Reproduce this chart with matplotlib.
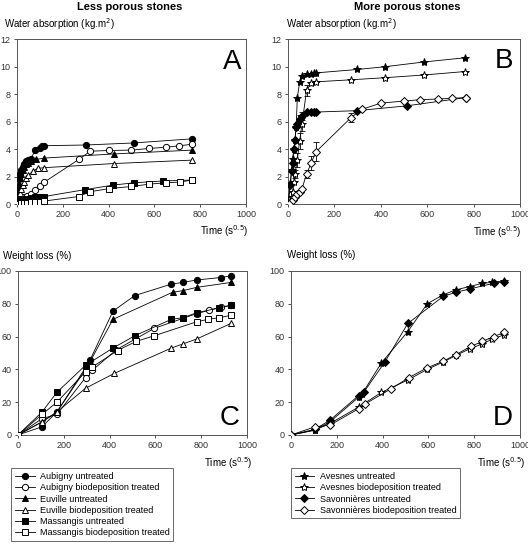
import matplotlib
matplotlib.use("Agg")
import matplotlib.pyplot as plt
from matplotlib.lines import Line2D

plt.rcParams['font.family'] = ['Liberation Sans', 'DejaVu Sans']

# ---- Panel A: less porous stones, water absorption ----
a_aub_u_x = [0, 5, 10, 15, 20, 25, 30, 40, 50, 60, 80, 100, 110, 120, 300, 510, 765]
a_aub_u_y = [0.5, 1.2, 1.8, 2.2, 2.5, 2.7, 2.9, 3.1, 3.2, 3.3, 3.9, 4.1, 4.2, 4.25, 4.3, 4.45, 4.75]
a_aub_t_x = [0, 10, 20, 30, 45, 60, 80, 100, 120, 272, 320, 402, 500, 578, 651, 709, 766]
a_aub_t_y = [0, 0.2, 0.35, 0.5, 0.6, 0.7, 1.0, 1.3, 1.6, 3.27, 3.85, 3.9, 3.93, 4.05, 4.14, 4.24, 4.36]
a_euv_u_x = [0, 5, 10, 15, 20, 25, 30, 40, 50, 60, 85, 120, 424, 765]
a_euv_u_y = [0.4, 1.0, 1.5, 1.9, 2.2, 2.5, 2.7, 2.9, 3.0, 3.1, 3.25, 3.35, 3.65, 3.93]
a_euv_t_x = [0, 5, 10, 15, 20, 25, 30, 40, 50, 70, 90, 120, 424, 765]
a_euv_t_y = [0.1, 0.3, 0.5, 0.8, 1.1, 1.4, 1.6, 1.9, 2.1, 2.4, 2.6, 2.65, 2.95, 3.2]
a_mas_u_x = [0, 10, 20, 30, 40, 60, 80, 100, 120, 297, 420, 511, 639, 765]
a_mas_u_y = [0.25, 0.3, 0.35, 0.35, 0.4, 0.45, 0.5, 0.5, 0.55, 1.05, 1.38, 1.55, 1.68, 1.75]
a_mas_t_x = [0, 10, 20, 30, 45, 60, 80, 100, 120, 270, 320, 400, 500, 578, 650, 710, 765]
a_mas_t_y = [0, 0.02, 0.05, 0.07, 0.1, 0.12, 0.15, 0.18, 0.22, 0.55, 0.9, 1.12, 1.28, 1.45, 1.55, 1.6, 1.75]

# ---- Panel B: more porous stones, water absorption ----
b_ave_u_x = [0, 10, 15, 20, 25, 30, 35, 40, 50, 60, 80, 100, 110, 120, 299, 417, 588, 762]
b_ave_u_y = [0, 1.5, 2.5, 3.3, 4.0, 4.7, 5.6, 7.7, 8.9, 9.3, 9.45, 9.5, 9.55, 9.55, 9.8, 10.0, 10.35, 10.65]
b_ave_t_x = [0, 10, 15, 20, 25, 30, 40, 50, 60, 80, 100, 120, 272, 417, 588, 762]
b_ave_t_y = [0, 0.2, 0.5, 0.9, 1.6, 2.2, 3.2, 4.6, 5.8, 8.3, 8.8, 8.9, 9.05, 9.2, 9.4, 9.65]
b_ave_t_err = [0, 0, 0, 0, 0, 0.3, 0.5, 0.6, 0.5, 0.4, 0, 0, 0, 0, 0, 0]
b_sav_u_x = [0, 10, 15, 20, 25, 30, 35, 40, 50, 60, 80, 100, 110, 120, 297, 511, 765]
b_sav_u_y = [0, 1.4, 2.4, 3.0, 4.0, 4.7, 5.6, 5.8, 6.2, 6.4, 6.7, 6.7, 6.7, 6.7, 6.8, 7.15, 7.75]
b_sav_u_err = [0, 0, 0, 0, 0, 0, 0, 0, 0.3, 0.3, 0, 0, 0, 0, 0, 0, 0]
b_sav_t_x = [0, 10, 20, 30, 40, 50, 60, 80, 100, 120, 272, 319, 400, 500, 570, 646, 707, 765]
b_sav_t_y = [0, 0.1, 0.3, 0.5, 0.7, 0.9, 1.1, 2.2, 3.0, 3.8, 6.3, 6.9, 7.35, 7.5, 7.6, 7.65, 7.7, 7.75]
b_sav_t_err = [0, 0, 0, 0, 0, 0, 0, 0.3, 0.5, 0.7, 0.35, 0, 0, 0, 0, 0, 0, 0]

# ---- Panel C: less porous stones, weight loss ----
c_aub_u_x = [0, 105, 170, 295, 316, 415, 510, 670, 720, 780, 885, 930]
c_aub_u_y = [0, 5, 14, 41, 46, 75.5, 85, 92, 93, 94.5, 96, 97]
c_aub_t_x = [0, 105, 170, 295, 325, 430, 595, 780, 835, 885, 930]
c_aub_t_y = [0, 10, 12.5, 35, 39.5, 52, 65, 74, 76, 78, 79]
c_euv_u_x = [0, 105, 170, 295, 316, 415, 675, 720, 780, 930]
c_euv_u_y = [0, 8, 14, 40, 45, 70.5, 87, 88, 90, 93]
c_euv_t_x = [0, 105, 170, 295, 420, 670, 720, 780, 930]
c_euv_t_y = [0, 8, 14, 28.5, 37.5, 53, 55.5, 58.5, 68]
c_mas_u_x = [0, 105, 170, 295, 415, 510, 670, 720, 780, 880, 930]
c_mas_u_y = [0, 14, 26, 42.5, 53, 60.5, 70.5, 71.5, 74.5, 77.5, 79]
c_mas_t_x = [0, 105, 170, 295, 325, 435, 515, 595, 780, 830, 880, 930]
c_mas_t_y = [0, 12.5, 20, 38.5, 41.5, 51.5, 57, 60.5, 69, 70.5, 71.5, 73]

# ---- Panel D: more porous stones, weight loss ----
d_ave_u_x = [0, 105, 170, 295, 310, 395, 510, 595, 665, 720, 780, 835, 880, 930]
d_ave_u_y = [0, 3, 8, 23, 25, 44, 63, 80, 85.5, 88.5, 90.5, 92.5, 93, 94]
d_ave_t_x = [0, 105, 170, 295, 395, 510, 595, 665, 720, 780, 835, 880, 930]
d_ave_t_y = [0, 3, 7, 17, 26, 33.5, 40, 44.5, 48.5, 52.5, 55.5, 58.5, 61]
d_sav_u_x = [0, 105, 170, 295, 320, 410, 510, 665, 720, 780, 885, 930]
d_sav_u_y = [0, 3.5, 9, 24, 26.5, 44.5, 68, 84.5, 87, 89, 92.5, 93.5]
d_sav_t_x = [0, 105, 170, 295, 325, 435, 515, 595, 665, 720, 785, 835, 885, 930]
d_sav_t_y = [0, 5, 6, 16, 19, 28, 35, 41, 45, 49, 54, 57, 60, 62.5]

left_labels = ["Aubigny untreated", "Aubigny biodeposition treated",
               "Euville untreated", "Euville biodeposition treated",
               "Massangis untreated", "Massangis biodeposition treated"]
right_labels = ["Avesnes untreated", "Avesnes biodeposition treated",
                "Savonnières untreated", "Savonnières biodeposition treated"]

# marker styles: (marker, facecolor, size)
left_styles = [("o", "black", 4.5), ("o", "white", 4.5), ("^", "black", 4.5),
               ("^", "white", 4.5), ("s", "black", 4.2), ("s", "white", 4.2)]
right_styles = [("*", "black", 6), ("*", "white", 6), ("D", "black", 4), ("D", "white", 4)]

fig = plt.figure(figsize=(5.28, 5.53), dpi=100)
axA = fig.add_axes([0.032, 0.631, 0.434, 0.298])
axB = fig.add_axes([0.5455, 0.631, 0.4394, 0.298])
axC = fig.add_axes([0.034, 0.2134, 0.4337, 0.2966])
axD = fig.add_axes([0.5511, 0.2134, 0.4337, 0.2966])


def draw(ax, x, y, style, err=None):
    m, fc, ms = style
    if err is not None:
        ax.errorbar(x, y, yerr=err, fmt="none", ecolor="black", elinewidth=0.6,
                    capsize=2.5, capthick=0.6, zorder=2)
    ax.plot(x, y, color="black", lw=0.6, marker=m, mfc=fc, mec="black",
            mew=0.7, ms=ms, zorder=3)


draw(axA, a_aub_u_x, a_aub_u_y, left_styles[0])
draw(axA, a_aub_t_x, a_aub_t_y, left_styles[1])
draw(axA, a_euv_u_x, a_euv_u_y, left_styles[2])
draw(axA, a_euv_t_x, a_euv_t_y, left_styles[3])
draw(axA, a_mas_u_x, a_mas_u_y, left_styles[4])
draw(axA, a_mas_t_x, a_mas_t_y, left_styles[5])

draw(axB, b_ave_u_x, b_ave_u_y, right_styles[0])
draw(axB, b_ave_t_x, b_ave_t_y, right_styles[1], b_ave_t_err)
draw(axB, b_sav_u_x, b_sav_u_y, right_styles[2], b_sav_u_err)
draw(axB, b_sav_t_x, b_sav_t_y, right_styles[3], b_sav_t_err)

draw(axC, c_aub_u_x, c_aub_u_y, left_styles[0])
draw(axC, c_aub_t_x, c_aub_t_y, left_styles[1])
draw(axC, c_euv_u_x, c_euv_u_y, left_styles[2])
draw(axC, c_euv_t_x, c_euv_t_y, left_styles[3])
draw(axC, c_mas_u_x, c_mas_u_y, left_styles[4])
draw(axC, c_mas_t_x, c_mas_t_y, left_styles[5])

draw(axD, d_ave_u_x, d_ave_u_y, right_styles[0])
draw(axD, d_ave_t_x, d_ave_t_y, right_styles[1])
draw(axD, d_sav_u_x, d_sav_u_y, right_styles[2])
draw(axD, d_sav_t_x, d_sav_t_y, right_styles[3])

for ax in (axA, axB):
    ax.set_ylim(0, 12)
    ax.set_yticks(range(0, 13, 2))
for ax in (axC, axD):
    ax.set_ylim(0, 100)
    ax.set_yticks(range(0, 101, 20))

for ax in (axA, axB, axC, axD):
    ax.set_xlim(0, 1000)
    ax.set_xticks(range(0, 1001, 200))
    ax.tick_params(labelsize=6.5, length=2.5, width=0.6, colors="#333333", pad=2)
    for sp in ax.spines.values():
        sp.set_linewidth(0.7)
        sp.set_color("#555555")
    ax.set_clip_on(False)

# panel letters
for ax, letter, pos in ((axA, "A", (0.94, 0.86)), (axB, "B", (0.93, 0.87)),
                        (axC, "C", (0.925, 0.105)), (axD, "D", (0.925, 0.105))):
    ax.text(pos[0], pos[1], letter, transform=ax.transAxes, fontsize=20,
            ha="center", va="center")

# titles and axis labels
fig.text(0.246, 0.988, "Less porous stones", ha="center", va="center",
         fontsize=8, fontweight="bold")
fig.text(0.771, 0.988, "More porous stones", ha="center", va="center",
         fontsize=8, fontweight="bold")
fig.text(0.007, 0.957, "Water absorption (kg.m$^{2}$)", ha="left", va="center", fontsize=7)
fig.text(0.542, 0.957, "Water absorption (kg.m$^{2}$)", ha="left", va="center", fontsize=7)
fig.text(0.005, 0.537, "Weight loss (%)", ha="left", va="center", fontsize=7)
fig.text(0.544, 0.538, "Weight loss (%)", ha="left", va="center", fontsize=7)
for xr, yc in ((0.470, 0.582), (0.987, 0.580), (0.479, 0.163), (0.996, 0.163)):
    fig.text(xr, yc, "Time (s$^{0.5}$)", ha="right", va="center", fontsize=7)

# legends
left_handles = [Line2D([], [], color="black", lw=0.6, marker=m, mfc=fc, mec="black",
                       mew=0.7, ms=ms) for m, fc, ms in left_styles]
right_handles = [Line2D([], [], color="black", lw=0.6, marker=m, mfc=fc, mec="black",
                        mew=0.7, ms=ms) for m, fc, ms in right_styles]
for handles, labels, x0 in ((left_handles, left_labels, 0.021),
                            (right_handles, right_labels, 0.551)):
    leg = fig.legend(handles, labels, loc="upper left", bbox_to_anchor=(x0, 0.153),
                     fontsize=6.5, frameon=True, fancybox=False, handlelength=2.2,
                     handletextpad=0.6, labelspacing=0.25, borderpad=0.4,
                     edgecolor="#444444", borderaxespad=0)
    leg.get_frame().set_linewidth(0.7)

fig.savefig("out.png", dpi=100, facecolor="white")
